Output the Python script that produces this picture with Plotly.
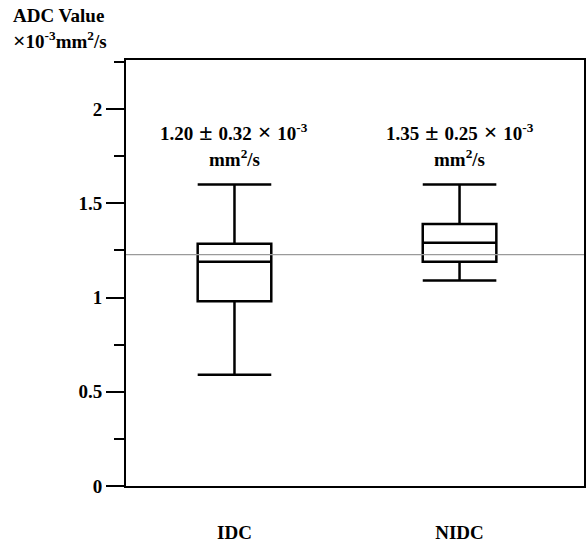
import plotly.graph_objects as go

categories = ["IDC", "NIDC"]
lower_whisker = [0.59, 1.09]
q1_values = [0.98, 1.19]
median_values = [1.19, 1.29]
q3_values = [1.285, 1.39]
upper_whisker = [1.60, 1.60]
reference_value = 1.228
annot_lines = [
    "1.20<span style='font-size:24px'> ± </span>0.32<span style='font-size:24px'> × </span>10<sup>-3</sup>",
    "1.35<span style='font-size:24px'> ± </span>0.25<span style='font-size:24px'> × </span>10<sup>-3</sup>",
]
annot_y = [1.88, 1.74]
y_ticks = [0, 0.5, 1, 1.5, 2]
y_tick_text = ["0", "0.5", "1", "1.5", "2"]

FONT = "Liberation Serif"

fig = go.Figure()
fig.add_trace(go.Box(
    x=categories,
    q1=q1_values, median=median_values, q3=q3_values,
    lowerfence=lower_whisker, upperfence=upper_whisker,
    width=0.327, whiskerwidth=1,
    fillcolor="white",
    line=dict(color="black", width=2.5),
    boxpoints=False, showlegend=False, hoverinfo="skip",
))

fig.add_shape(type="line", xref="paper", yref="y", x0=0, x1=1,
              y0=reference_value, y1=reference_value,
              line=dict(color="#9a9a9a", width=1.2), layer="above")

for cat, txt in zip(categories, annot_lines):
    fig.add_annotation(x=cat, y=annot_y[0], xref="x", yref="y", text="<b>" + txt + "</b>",
                       showarrow=False, font=dict(family=FONT, size=19, color="black"),
                       yanchor="middle")
    fig.add_annotation(x=cat, y=annot_y[1], xref="x", yref="y", text="<b>mm<sup>2</sup>/s</b>",
                       showarrow=False, font=dict(family=FONT, size=19, color="black"),
                       yanchor="middle")

fig.add_annotation(xref="paper", yref="paper", x=-0.252, y=1.104, xanchor="left", yanchor="middle",
                   text="<b>ADC Value</b>", showarrow=False,
                   font=dict(family=FONT, size=19, color="black"))
fig.add_annotation(xref="paper", yref="paper", x=-0.252, y=1.046, xanchor="left", yanchor="middle",
                   text="<b><span style='font-size:22px'>×</span>10<sup>-3</sup>mm<sup>2</sup>/s</b>",
                   showarrow=False, font=dict(family=FONT, size=19, color="black"))

fig.update_layout(
    width=588, height=545,
    margin=dict(l=126, r=2, t=60, b=50),
    paper_bgcolor="white", plot_bgcolor="white",
    font=dict(family=FONT, size=18, color="black"),
)
fig.update_xaxes(
    range=[-0.482, 1.553], showgrid=False, zeroline=False,
    showline=True, mirror=True, linecolor="black", linewidth=2,
    ticks="", ticklabelstandoff=28,
    tickfont=dict(family=FONT, size=19, color="black"),
    tickvals=categories, ticktext=["<b>IDC</b>", "<b>NIDC</b>"],
)
fig.update_yaxes(
    range=[0, 2.26], showgrid=False, zeroline=False,
    showline=True, mirror=True, linecolor="black", linewidth=2,
    ticks="outside", ticklen=18, tickwidth=2, tickcolor="black",
    tickvals=y_ticks, ticktext=["<b>%s</b>" % t for t in y_tick_text],
    tickfont=dict(family=FONT, size=19, color="black"),
    minor=dict(ticks="outside", ticklen=10, tickwidth=2, tickcolor="black", dtick=0.25, tick0=0),
)

fig.write_html("out.html")
